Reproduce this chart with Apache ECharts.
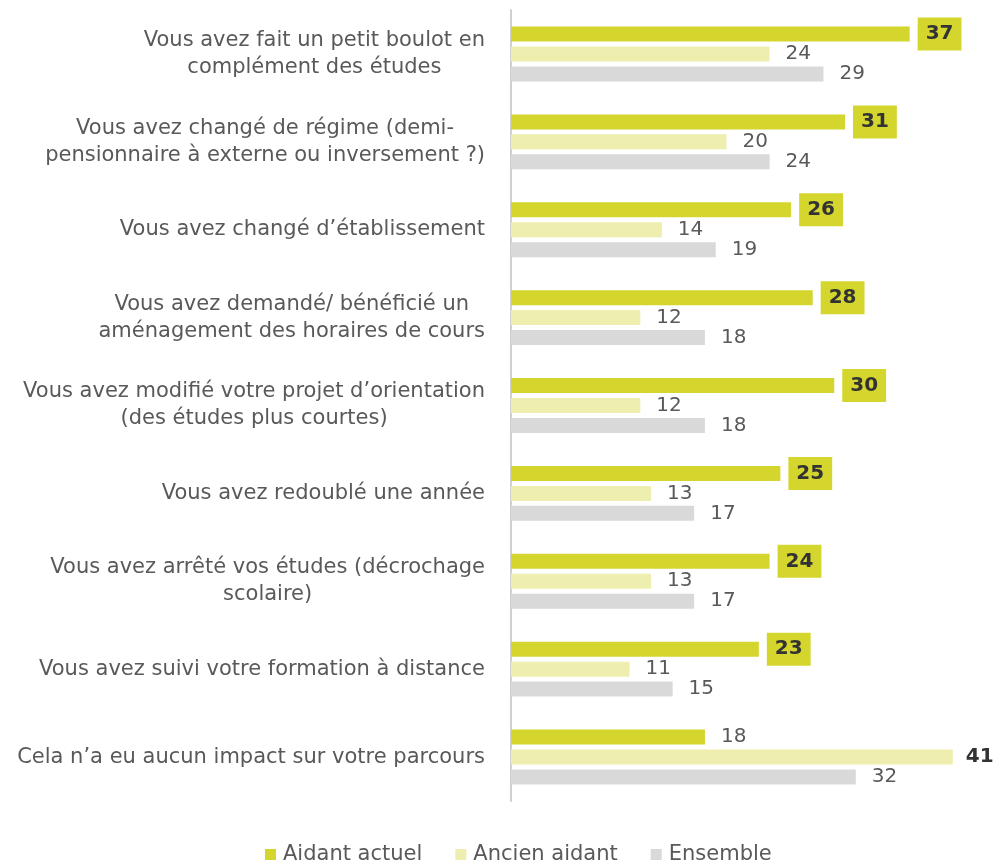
<!DOCTYPE html>
<html><head><meta charset="utf-8">
<script src="https://cdn.jsdelivr.net/npm/echarts@6/dist/echarts.min.js"></script>
<style>html,body{margin:0;padding:0;background:#fff}#c{width:993px;height:861px}</style>
</head><body><div id="c"></div>
<script>
const categories = [
  "Vous avez fait un petit boulot en\ncomplément des études",
  "Vous avez changé de régime (demi-\npensionnaire à externe ou inversement ?)",
  "Vous avez changé d’établissement",
  "Vous avez demandé/ bénéficié un\naménagement des horaires de cours",
  "Vous avez modifié votre projet d’orientation\n(des études plus courtes)",
  "Vous avez redoublé une année",
  "Vous avez arrêté vos études (décrochage\nscolaire)",
  "Vous avez suivi votre formation à distance",
  "Cela n’a eu aucun impact sur votre parcours"
];
const aidantActuel = [37, 31, 26, 28, 30, 25, 24, 23, 18];
const ancienAidant = [24, 20, 14, 12, 12, 13, 13, 11, 41];
const ensemble = [29, 24, 19, 18, 18, 17, 17, 15, 32];

const FONT = "DejaVu Sans";
const chart = echarts.init(document.getElementById('c'));

const highlightActuel = aidantActuel.map((v, i) => v >= ancienAidant[i]);

const baseLabel = {show: true, position: 'right', distance: 16, fontFamily: FONT, fontSize: 20, color: '#595959'};

option = {
  animation: false,
  grid: {left: 511, right: 37, top: 10, bottom: 60, containLabel: false},
  xAxis: {type: 'value', min: 0, max: 41.3, show: false},
  yAxis: {
    type: 'category', data: categories, inverse: true,
    axisLine: {show: true, lineStyle: {color: '#d0d0d0', width: 2}},
    axisTick: {show: false},
    axisLabel: {
      margin: 26, fontFamily: FONT, fontSize: 21, color: '#595959', lineHeight: 27,
      formatter: v => v.split('\n').map(l => '{a|' + l + '}').join('\n'),
      rich: {a: {align: 'center', fontFamily: FONT, fontSize: 21, color: '#595959', lineHeight: 27}}
    }
  },
  legend: {
    top: 839, left: 260, itemWidth: 11, itemHeight: 11, itemGap: 33,
    icon: 'rect',
    textStyle: {fontFamily: FONT, fontSize: 21, color: '#595959', padding: [0, 0, 0, 2]},
    data: ['Aidant actuel', 'Ancien aidant', 'Ensemble']
  },
  series: [
    {
      name: 'Aidant actuel', type: 'bar', barWidth: 15, barGap: '33%', barCategoryGap: '37%',
      itemStyle: {color: '#d4d62d'},
      data: aidantActuel.map((v, i) => highlightActuel[i] ? {
        value: v,
        label: {show: true, position: 'right', distance: 8, fontFamily: FONT, fontSize: 20, fontWeight: 'bold', color: '#333333', backgroundColor: '#d4d62d', padding: [7, 8, 6, 8]}
      } : v),
      label: baseLabel
    },
    {
      name: 'Ancien aidant', type: 'bar', barWidth: 15,
      itemStyle: {color: '#eeeeae'},
      data: ancienAidant.map((v, i) => !highlightActuel[i] ? {
        value: v, label: {fontWeight: 'bold', color: '#333333', distance: 13}
      } : v),
      label: baseLabel
    },
    {
      name: 'Ensemble', type: 'bar', barWidth: 15,
      itemStyle: {color: '#d9d9d9'},
      data: ensemble,
      label: baseLabel
    }
  ]
};
chart.setOption(option);
</script></body></html>
